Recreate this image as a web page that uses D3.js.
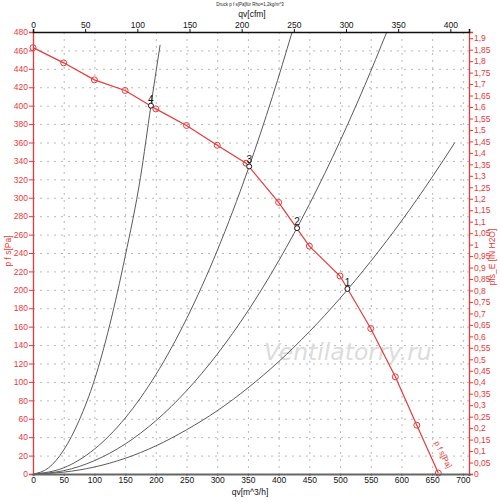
<!DOCTYPE html>
<html>
<head>
<meta charset="utf-8">
<script src="https://cdn.jsdelivr.net/npm/d3@7"></script>
<style>
  body { margin: 0; background: #fff; }
  svg { display: block; font-family: "Liberation Sans", Arial, sans-serif; }
</style>
</head>
<body>
<div id="chart"></div>
<script>
// fan curve p f s [Pa] over qv [m^3/h]
const fanQ = [0, 50, 100, 150, 200, 250, 300, 347, 400, 450, 500, 550, 590, 625, 660];
const fanP = [463, 446.5, 428, 416.5, 396.5, 378.5, 357, 337.5, 295, 247.5, 215, 158, 105.5, 53, 1];

// system curves
const sys1Q = [0, 50, 100, 150, 200, 250, 300, 350, 400, 450, 500, 550, 600, 650, 687];
const sys1P = [0, 2, 7.6, 17, 30.5, 48, 68.7, 93.5, 122, 154.5, 190.8, 231, 274.7, 322.4, 360];
const sys2Q = [0, 50, 100, 150, 200, 250, 300, 350, 400, 450, 500, 540, 576];
const sys2P = [0, 3.6, 14.5, 32.5, 57.8, 90.4, 130.1, 177, 231.4, 292.8, 361.5, 421.6, 479.8];
const sys3Q = [0, 50, 100, 150, 200, 250, 300, 350, 390, 422];
const sys3P = [0, 6.7, 27, 60.7, 107.8, 168.5, 242.6, 330.3, 410, 480];
const sys4Q = [0, 25, 50, 75, 100, 125, 150, 175, 192, 207];
const sys4P = [0, 6.5, 26, 58, 102, 162, 236, 322, 400, 466];

// operating points
const opQ = [512, 430, 352, 192];
const opP = [201, 267, 334, 400];
const opLabel = ["1", "2", "3", "4"];

// tick values
const qTicks = d3.range(0, 701, 50);
const cfmTicks = d3.range(0, 401, 50);
const pTicks = d3.range(0, 481, 20);
const inTicks = d3.range(0, 39).map(i => i * 0.05);

const W = 500, H = 502;
const red = "#e8393a";
const fs = 8.5;
const M3H_PER_CFM = 1.69901;
const PA_PER_INH2O = 249.089;

const x = d3.scaleLinear().domain([0, 710]).range([33, 469]);
const y = d3.scaleLinear().domain([0, 480]).range([474, 32]);
const xc = d3.scaleLinear().domain([0, 710 / M3H_PER_CFM]).range([33, 469]);
const yi = d3.scaleLinear().domain([0, 480 / PA_PER_INH2O]).range([474, 32]);

const svg = d3.select("#chart").append("svg")
  .attr("width", W).attr("height", H);

// grid
const grid = svg.append("g")
  .attr("stroke", "#b8b8b8")
  .attr("stroke-width", 1)
  .attr("stroke-dasharray", "2,5");
grid.selectAll(".gx").data(qTicks.filter(d => d > 0))
  .enter().append("line")
  .attr("x1", d => x(d) + 0.5).attr("x2", d => x(d) + 0.5)
  .attr("y1", y(480)).attr("y2", y(0));
grid.selectAll(".gy").data(pTicks.filter(d => d > 0 && d < 480))
  .enter().append("line")
  .attr("y1", d => y(d) + 0.5).attr("y2", d => y(d) + 0.5)
  .attr("x1", x(0)).attr("x2", x(710));

// watermark
svg.append("text")
  .attr("x", 264).attr("y", 360)
  .attr("font-family", "DejaVu Sans")
  .attr("font-style", "italic")
  .attr("font-size", 23.5)
  .attr("fill", "#dcdcdc")
  .text("Ventilatorry.ru");

// system curves
const sysLine = d3.line()
  .x(d => x(d[0])).y(d => y(d[1]))
  .curve(d3.curveMonotoneX);
[[sys1Q, sys1P], [sys2Q, sys2P], [sys3Q, sys3P], [sys4Q, sys4P]].forEach(([qs, ps]) => {
  svg.append("path")
    .datum(qs.map((q, i) => [q, ps[i]]))
    .attr("d", sysLine)
    .attr("fill", "none")
    .attr("stroke", "#5a5a5a")
    .attr("stroke-width", 1);
});

// fan curve
const fanData = fanQ.map((q, i) => [q, fanP[i]]);
svg.append("path")
  .datum(fanData)
  .attr("d", d3.line().x(d => x(d[0])).y(d => y(d[1])))
  .attr("fill", "none")
  .attr("stroke", red)
  .attr("stroke-width", 1.2);
svg.selectAll(".fanpt").data(fanData)
  .enter().append("circle")
  .attr("cx", d => x(d[0])).attr("cy", d => y(d[1]))
  .attr("r", 3)
  .attr("fill", "none")
  .attr("stroke", red)
  .attr("stroke-width", 1);

// label along the fan curve
svg.append("text")
  .attr("transform", `translate(${x(648) + 3},${y(34)}) rotate(63)`)
  .attr("font-size", 8)
  .attr("fill", red)
  .text("p f s[Pa]");

// operating points
opQ.forEach((q, i) => {
  svg.append("circle")
    .attr("cx", x(q)).attr("cy", y(opP[i]))
    .attr("r", 2.5)
    .attr("fill", "#fff")
    .attr("stroke", "#111")
    .attr("stroke-width", 1);
  svg.append("text")
    .attr("x", x(q)).attr("y", y(opP[i]) - 3)
    .attr("text-anchor", "middle")
    .attr("font-size", 10)
    .attr("fill", "#111")
    .text(opLabel[i]);
});

const comma = d => d3.format(".2~f")(d).replace(".", ",");

// left axis
const gl = svg.append("g").attr("transform", `translate(${x(0)},0)`);
gl.call(d3.axisLeft(y).tickValues(d3.range(0, 481, 5)).tickSize(2).tickFormat(""));
gl.call(d3.axisLeft(y).tickValues(pTicks).tickSize(4).tickPadding(1));
gl.selectAll("path,line").attr("stroke", red);
gl.select(".domain").attr("stroke-width", 1.3);
gl.selectAll("text").attr("fill", red).attr("font-size", fs);

// right axis
const gr = svg.append("g").attr("transform", `translate(${x(710)},0)`);
gr.call(d3.axisRight(yi).tickValues(d3.range(0, 193).map(i => i * 0.01)).tickSize(2).tickFormat(""));
gr.call(d3.axisRight(yi).tickValues(inTicks).tickSize(4).tickPadding(1).tickFormat(comma));
gr.selectAll("path,line").attr("stroke", red);
gr.select(".domain").attr("stroke-width", 1.3);
gr.selectAll("text").attr("fill", red).attr("font-size", fs);

// top axis (cfm)
const gt = svg.append("g").attr("transform", `translate(0,${y(480)})`);
gt.call(d3.axisTop(xc).tickValues(d3.range(0, 411, 10)).tickSize(2).tickFormat(""));
gt.call(d3.axisTop(xc).tickValues(cfmTicks).tickSize(3).tickPadding(1));
gt.selectAll("path,line").attr("stroke", "#111");
gt.select(".domain").attr("stroke-width", 1.5);
gt.selectAll("text").attr("fill", "#111").attr("font-size", fs);

// bottom axis
const gb = svg.append("g").attr("transform", `translate(0,${y(0)})`);
gb.call(d3.axisBottom(x).tickValues(qTicks).tickSize(2).tickPadding(1));
gb.selectAll("path,line").attr("stroke", "#666");
gb.select(".domain").attr("stroke-width", 2);
gb.selectAll("text").attr("fill", "#111").attr("font-size", fs);

// titles
svg.append("text")
  .attr("x", 250).attr("y", 6)
  .attr("text-anchor", "middle")
  .attr("font-size", 4.5)
  .attr("fill", "#222")
  .text("Druck p f s[Pa]für Rho=1,2kg/m^3");
svg.append("text")
  .attr("x", 252).attr("y", 17)
  .attr("text-anchor", "middle")
  .attr("font-size", fs)
  .attr("fill", "#111")
  .text("qv[cfm]");
svg.append("text")
  .attr("x", 250).attr("y", 495)
  .attr("text-anchor", "middle")
  .attr("font-size", fs)
  .attr("fill", "#111")
  .text("qv[m^3/h]");
svg.append("text")
  .attr("transform", "translate(11,251) rotate(-90)")
  .attr("text-anchor", "middle")
  .attr("font-size", fs)
  .attr("fill", red)
  .text("p f s[Pa]");
svg.append("text")
  .attr("transform", "translate(495,257) rotate(-90)")
  .attr("text-anchor", "middle")
  .attr("font-size", fs)
  .attr("fill", red)
  .text("pfs_E [iN H2O]");
</script>
</body>
</html>
